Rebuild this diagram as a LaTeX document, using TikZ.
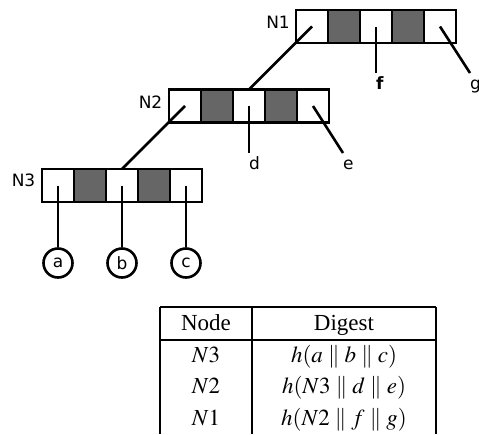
\documentclass[tikz,border=0pt]{standalone}
\usepackage{mathptmx}
\usepackage{fontspec}
\setmainfont{Liberation Serif}
\newfontfamily\diagfont{DejaVu Sans}
\definecolor{slotgray}{HTML}{666666}
\tikzset{
  cell/.style={draw, line width=2.6pt, minimum width=32pt, minimum height=33pt,
               inner sep=0pt, outer sep=0pt},
  whitecell/.style={cell, fill=white},
  graycell/.style={cell, fill=slotgray},
  link/.style={line width=2.6pt},
  tag/.style={font=\diagfont\fontsize{17}{20}\selectfont, inner sep=0pt},
  leaf/.style={tag, anchor=north west, text height=16pt, text depth=4pt},
  hashleaf/.style={circle, draw, line width=2.6pt, minimum size=29pt, inner sep=0pt,
                   font=\diagfont\fontsize{17}{20}\selectfont},
  rule/.style={line width=1.6pt},
  tabtext/.style={font=\fontsize{23}{27}\selectfont, anchor=base, inner sep=0pt}
}
\begin{document}
\begin{tikzpicture}[x=1pt, y=-1pt]
\useasboundingbox (0,0) rectangle (479,434);

% three five-slot records, left edges at 296, 169, 42
\foreach \i/\kind in {1/whitecell,2/graycell,3/whitecell,4/graycell,5/whitecell}{
  \node[\kind] (N1c\i) at ({296+32*(\i-0.5)}, 26.5) {};
  \node[\kind] (N2c\i) at ({169+32*(\i-0.5)}, 106) {};
  \node[\kind] (N3c\i) at ({42+32*(\i-0.5)}, 185.5) {};
}

% record names
\node[tag, anchor=east, xshift=-6pt, yshift=4.5pt] (lN1) at (N1c1.west) {N1};
\node[tag, anchor=east, xshift=-6.5pt, yshift=4pt] (lN2) at (N2c1.west) {N2};
\node[tag, anchor=east, xshift=-6.5pt, yshift=5pt] (lN3) at (N3c1.west) {N3};

% child pointers between records
\draw[link] (N1c1.center) -- (N2c3.north);
\draw[link] (N2c1.center) -- (N3c3.north);

% leaf labels
\node[leaf, font=\diagfont\bfseries\fontsize{17}{20}\selectfont] (f) at (376,73) {f};
\node[leaf] (g) at (470,73) {g};
\node[leaf] (d) at (249,153) {d};
\node[leaf] (e) at (343,153) {e};
\draw[link] (N1c3.center) -- (f.north west);
\draw[link] (N1c5.center) -- (g.north west);
\draw[link] (N2c3.center) -- (d.north west);
\draw[link] (N2c5.center) -- (e.north west);

% leaf values
\node[hashleaf] (a) at (58,263) {a};
\node[hashleaf] (b) at (122,263) {b};
\node[hashleaf] (c) at (186,263) {c};
\draw[link] (N3c1.center) -- (a.north);
\draw[link] (N3c3.center) -- (b.north);
\draw[link] (N3c5.center) -- (c.north);

% digest table
\coordinate (tl) at (160,307);
\coordinate (tm) at (252,307);
\coordinate (tr) at (436,307);
\coordinate (bl) at (160,434);
\coordinate (bm) at (252,434);
\coordinate (br) at (436,434);
\coordinate (hl) at (160,340);
\coordinate (hr) at (436,340);
\draw[rule] (tl) -- (tr);
\draw[rule] (hl) -- (hr);
\draw[rule] (tl) -- (bl);
\draw[rule] (tm) -- (bm);
\draw[rule] (tr) -- (br);

\node[tabtext] (hnode) at (206,330) {Node};
\node[tabtext] (hdig) at (344,330) {Digest};
\node[tabtext] (r1a) at (206,362) {$N3$};
\node[tabtext] (r1b) at (344,362) {$h(a \parallel b \parallel c)$};
\node[tabtext] (r2a) at (206,393.5) {$N2$};
\node[tabtext] (r2b) at (344,393.5) {$h(N3 \parallel d \parallel e)$};
\node[tabtext] (r3a) at (206,425) {$N1$};
\node[tabtext] (r3b) at (344,425) {$h(N2 \parallel f \parallel g)$};
\end{tikzpicture}
\end{document}
